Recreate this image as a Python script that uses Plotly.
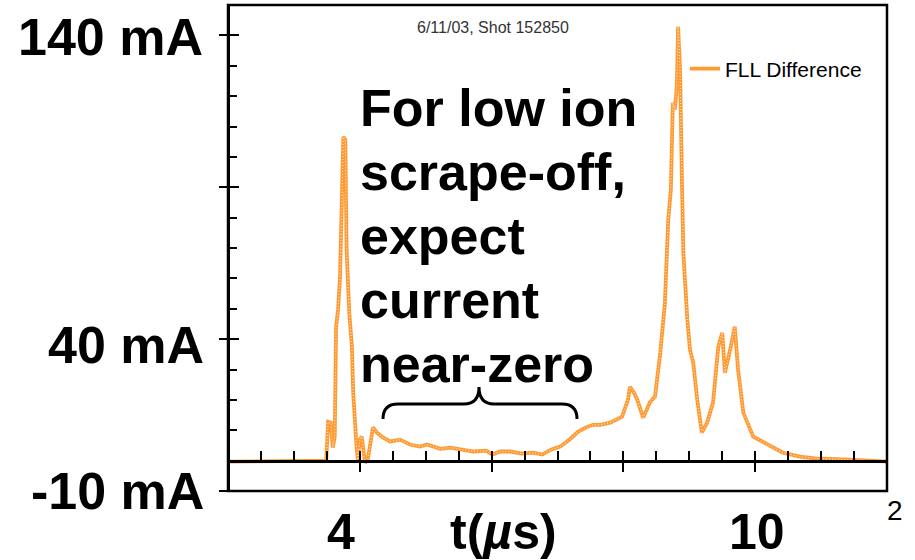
import plotly.graph_objects as go

# FLL difference current, shot 152850 (time in microseconds, current in mA)
t_us = [2.00, 2.49, 2.94, 3.24, 3.49, 3.52, 3.56, 3.59, 3.62, 3.64, 3.67, 3.70,
        3.73, 3.75, 3.78, 3.80, 3.84, 3.88, 3.90, 3.93, 3.95, 3.97, 4.00, 4.03,
        4.05, 4.08, 4.12, 4.16, 4.20, 4.26, 4.35, 4.46, 4.61, 4.76, 4.91, 5.02,
        5.22, 5.37, 5.55, 5.73, 5.92, 6.01, 6.13, 6.28, 6.46, 6.63, 6.77, 6.90,
        7.04, 7.18, 7.31, 7.43, 7.54, 7.65, 7.80, 7.89, 7.98, 8.07, 8.10, 8.16,
        8.21, 8.30, 8.40, 8.48, 8.56, 8.63, 8.68, 8.72, 8.75, 8.78, 8.81, 8.83,
        8.86, 8.89, 8.91, 8.97, 9.01, 9.06, 9.12, 9.19, 9.27, 9.36, 9.44, 9.50,
        9.54, 9.62, 9.69, 9.74, 9.82, 9.97, 10.18, 10.42, 10.68, 10.91, 11.44,
        11.74, 12.00]
fll_diff_ma = [-0.3, -0.3, 0.0, -0.3, 0.0, 12.8, 12.5, 4.3, 7.9, 44.0, 49.7, 60.5,
               85.9, 106.6, 105.6, 69.4, 48.7, 37.5, 22.4, 10.2, 4.6, 0.3, 6.9, 7.9,
               3.6, -0.7, 0.3, 5.9, 10.9, 9.2, 7.6, 6.3, 6.9, 5.3, 4.6, 5.3,
               3.9, 4.3, 3.6, 3.0, 3.3, 2.0, 3.0, 3.0, 2.3, 2.6, 2.0, 3.6,
               4.6, 6.9, 9.5, 10.9, 11.8, 11.8, 12.5, 13.5, 14.5, 20.1, 24.3, 22.4,
               20.1, 14.1, 19.1, 21.1, 35.5, 52.0, 79.3, 89.1, 117.8, 115.5, 123.0, 142.8,
               128.6, 90.1, 68.4, 46.4, 36.5, 32.2, 20.1, 9.2, 12.5, 19.1, 37.5, 42.1,
               28.9, 36.5, 44.1, 29.9, 15.8, 7.9, 5.3, 2.6, 1.3, 0.7, 0.3,
               0.0, -0.3]

x_range = [2, 12]
y_range = [-10, 150]
y_major_ticks = [-10, 40, 90, 140]
x_major_step = 2
x_minor_step = 0.5
y_minor_step = 10

ORANGE = "#FF9A33"
FONT = "Liberation Sans, Arial, sans-serif"

# figure geometry (pixels)
W, H = 915, 560
L, R, T, B = 228, 28, 5, 69
PW, PH = W - L - R, H - T - B


def paper(px, py):
    """Convert page pixel position to paper coordinates."""
    return (px - L) / PW, (H - B - py) / PH


fig = go.Figure()

fig.add_trace(go.Scatter(
    x=t_us, y=fll_diff_ma, mode="lines", name="FLL Difference",
    line=dict(color=ORANGE, width=3.8), legendgroup="fll",
))
# light dotted core gives the beaded look of the trace
fig.add_trace(go.Scatter(
    x=t_us, y=fll_diff_ma, mode="lines", showlegend=False, hoverinfo="skip",
    line=dict(color="rgba(255,236,214,0.95)", width=1.1, dash="1px,2px"),
    legendgroup="fll",
))
# carrier for the overlay axes that draw the outer half of the major ticks
fig.add_trace(go.Scatter(x=[], y=[], xaxis="x2", yaxis="y2", showlegend=False))

zero_pos = (0 - y_range[0]) / (y_range[1] - y_range[0])

fig.update_layout(
    width=W, height=H, autosize=False,
    margin=dict(l=L, r=R, t=T, b=B, pad=0),
    paper_bgcolor="white", plot_bgcolor="white",
    font=dict(family=FONT, color="black"),
    xaxis=dict(
        range=x_range, anchor="free", position=zero_pos,
        showgrid=False, zeroline=False, showticklabels=False,
        showline=True, linecolor="black", linewidth=2.5,
        tickmode="linear", tick0=x_range[0], dtick=x_major_step,
        ticks="inside", ticklen=9, tickwidth=2, tickcolor="black",
        minor=dict(ticks="inside", ticklen=9, tickwidth=2, tickcolor="black",
                   tick0=x_range[0], dtick=x_minor_step, showgrid=False),
    ),
    xaxis2=dict(
        range=x_range, overlaying="x", anchor="free", position=zero_pos,
        showgrid=False, zeroline=False, showticklabels=False, showline=False,
        tickmode="linear", tick0=x_range[0], dtick=x_major_step,
        ticks="outside", ticklen=10, tickwidth=2, tickcolor="black",
    ),
    yaxis=dict(
        range=y_range, anchor="free", position=0,
        showgrid=False, zeroline=False, showticklabels=False,
        showline=True, linecolor="black", linewidth=2.5,
        tickmode="array", tickvals=y_major_ticks,
        ticks="inside", ticklen=9, tickwidth=2, tickcolor="black",
        minor=dict(ticks="inside", ticklen=7, tickwidth=2, tickcolor="black",
                   tick0=y_range[0], dtick=y_minor_step, showgrid=False),
    ),
    yaxis2=dict(
        range=y_range, overlaying="y", anchor="free", position=0,
        showgrid=False, zeroline=False, showticklabels=False, showline=False,
        tickmode="array", tickvals=y_major_ticks,
        ticks="outside", ticklen=9, tickwidth=2, tickcolor="black",
    ),
    showlegend=True,
    legend=dict(
        x=paper(685, 0)[0], y=paper(0, 69)[1], xanchor="left", yanchor="middle",
        bgcolor="rgba(0,0,0,0)", borderwidth=0,
        font=dict(family=FONT, size=21, color="black"),
    ),
)

# plot frame
fig.add_shape(type="rect", xref="paper", yref="paper", x0=0, y0=0, x1=1, y1=1,
              line=dict(color="black", width=2.5), layer="above")

# curly brace over the quiet interval
def d(px, py):
    return (x_range[0] + (px - L) / PW * (x_range[1] - x_range[0]),
            y_range[0] + (H - B - py) / PH * (y_range[1] - y_range[0]))

pts = [d(383, 419), d(383, 404), d(398, 404), d(464, 404), d(479, 404), d(479, 387),
       d(479, 404), d(494, 404), d(562, 404), d(577, 404), d(577, 419)]
p = [f"{a:.4f},{b:.4f}" for a, b in pts]
brace = (f"M {p[0]} Q {p[1]} {p[2]} L {p[3]} Q {p[4]} {p[5]} "
         f"Q {p[6]} {p[7]} L {p[8]} Q {p[9]} {p[10]}")
fig.add_shape(type="path", xref="x", yref="y", path=brace,
              line=dict(color="black", width=3))


def label(text, px, py, size, bold=True, xanchor="center", color="black"):
    x, y = paper(px, py)
    fig.add_annotation(
        text=f"<b>{text}</b>" if bold else text, x=x, y=y, xref="paper", yref="paper",
        xanchor=xanchor, yanchor="middle", showarrow=False,
        font=dict(family=FONT, size=size, color=color),
    )


label("6/11/03, Shot 152850", 493, 27, 16, bold=False, color="#333333")

label("140 mA", 110, 37, 52)
label("40 mA", 126, 345, 52)
label("-10 mA", 117, 491, 52)

note_lines = ["For low ion", "scrape-off,", "expect", "current", "near-zero"]
for i, line in enumerate(note_lines):
    label(line, 358, 108 + 64 * i, 52, xanchor="left")

label("4", 341, 532, 50)
label("t(<i>µ</i>s)", 503, 532, 50)
label("10", 757, 532, 50)
label("2", 895, 510, 28, bold=False)

fig.write_html("out.html")
